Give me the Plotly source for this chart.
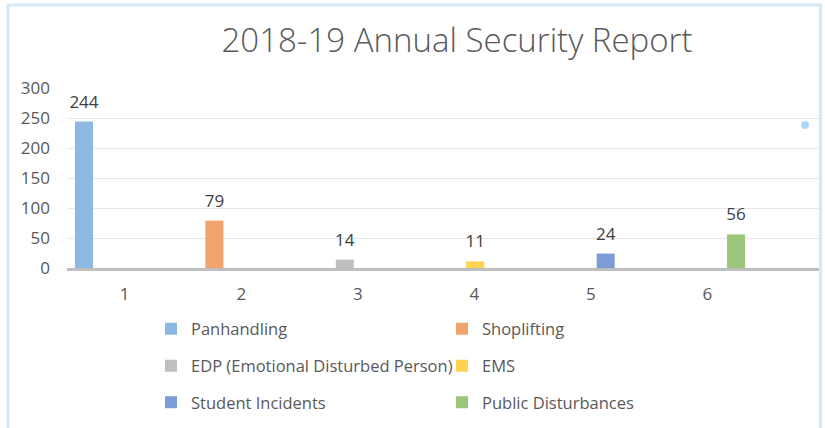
import plotly.graph_objects as go

# ---- data ----
categories = [1, 2, 3, 4, 5, 6]
series_names = ["Panhandling", "Shoplifting", "EDP (Emotional Disturbed Person)",
                "EMS", "Student Incidents", "Public Disturbances"]
series_values = [244, 79, 14, 11, 24, 56]
series_colors = ["#8DB8E2", "#F2A46E", "#BFBFBF", "#FFD24F", "#7B9CD6", "#9CC67C"]
stray_x = [6.89]
stray_y = [238.5]
title_text = "2018-19 Annual Security Report"

W, H = 825, 428
ML, MR, MT, MB = 67, 6, 88, 160

fig = go.Figure()
legend_ids = ["legend", "legend", "legend2", "legend2", "legend3", "legend3"]
for i, (name, val, col) in enumerate(zip(series_names, series_values, series_colors)):
    fig.add_trace(go.Bar(
        x=[categories[i]], y=[val], name=name,
        offsetgroup=str(i), width=0.155,
        marker=dict(color=col, line=dict(width=0)),
        legend=legend_ids[i],
        hoverinfo="skip",
    ))
# data labels, grouped like the bars
for i, val in enumerate(series_values):
    fig.add_trace(go.Scatter(
        x=[categories[i]], y=[val], mode="markers+text",
        offsetgroup=str(i),
        marker=dict(size=14, opacity=0),
        text=[str(val)], textposition="top center",
        textfont=dict(size=17, color="#404040", family="Open Sans"),
        cliponaxis=False, showlegend=False, hoverinfo="skip",
    ))

fig.add_trace(go.Scatter(
    x=stray_x, y=stray_y, mode="markers", xaxis="x2",
    marker=dict(color="#A8D8F5", size=8),
    showlegend=False, hoverinfo="skip",
))

def leg(py):
    return dict(
        orientation="h", xref="container", yref="container",
        x=151 / W, xanchor="left", y=1 - py / H, yanchor="middle",
        entrywidth=246, entrywidthmode="pixels",
        font=dict(family="Open Sans", size=16.5, color="#595959"),
        bgcolor="rgba(0,0,0,0)",
    )

def px2x(px):
    return (px - ML) / (W - ML - MR)

def py2y(py):
    return (H - MB - py) / (H - MT - MB)

fig.update_layout(
    width=W, height=H,
    margin=dict(l=ML, r=MR, t=MT, b=MB, autoexpand=False),
    paper_bgcolor="white", plot_bgcolor="white",
    barmode="group", bargap=0.284, bargroupgap=0,
    scattermode="group", scattergap=0.284,
    font=dict(family="Open Sans", color="#595959"),
    title=dict(text=title_text, xref="container", yref="container",
               x=457 / W, xanchor="center", y=1 - 40 / H, yanchor="middle",
               font=dict(family="Open Sans", size=33, color="#595959", weight=300)),
    legend=leg(329), legend2=leg(366), legend3=leg(402.5),
    showlegend=True,
    shapes=[dict(type="rect", xref="paper", yref="paper",
                 x0=px2x(8), x1=px2x(820.5), y0=py2y(440), y1=py2y(5),
                 line=dict(color="#D3E9F8", width=3), fillcolor="rgba(0,0,0,0)",
                 layer="below")],
    xaxis=dict(range=[0.556, 7.01], tickvals=categories,
               ticktext=[str(c) for c in categories],
               showgrid=False, zeroline=False, showline=True,
               linecolor="#BFBFBF", linewidth=2.5, ticks="",
               tickfont=dict(family="Open Sans", size=17, color="#595959"),
               ticklabelshift=6, ticklabelstandoff=9),
    xaxis2=dict(overlaying="x", range=[0.556, 7.01], visible=False),
    yaxis=dict(range=[0, 300], dtick=50, showgrid=True, gridcolor="#E6E6E6",
               gridwidth=1, zeroline=False, showline=False, ticks="",
               tickfont=dict(family="Open Sans", size=17, color="#595959"),
               ticklabelstandoff=16),
)

fig.write_html("out.html",
               config={"displayModeBar": False},
               post_script="document.body.style.margin='0';"
                           "document.body.style.overflow='hidden';")
